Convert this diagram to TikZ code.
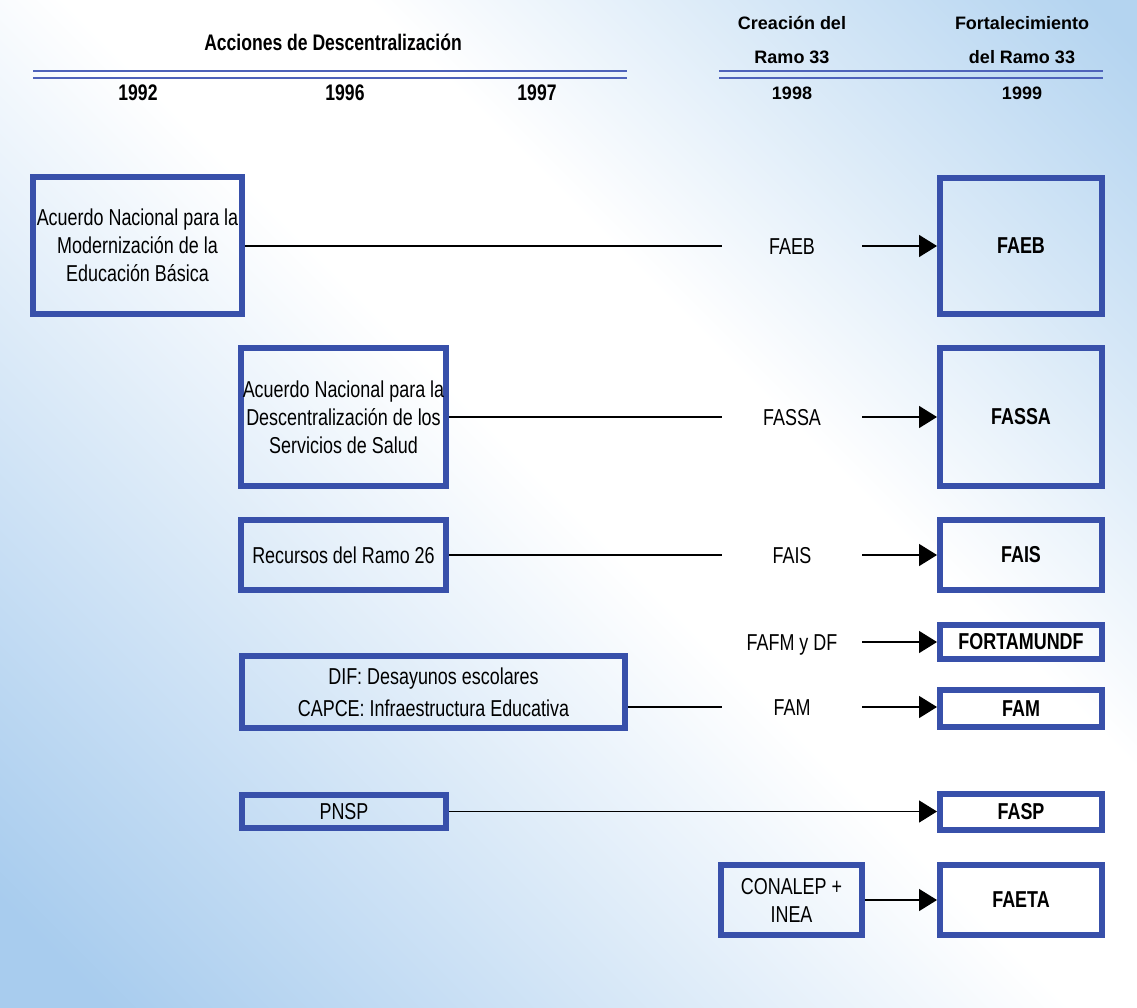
\documentclass[tikz,border=0pt]{standalone}
\usepackage{fontspec}
\setmainfont{Liberation Sans}[FakeStretch=0.78]
\newfontfamily\widefont{Liberation Sans}
\usetikzlibrary{arrows.meta}

\definecolor{boxblue}{RGB}{56,80,170}
\definecolor{rulerblue}{RGB}{78,98,186}
\definecolor{skyleft}{RGB}{168,204,238}
\definecolor{skyright}{RGB}{180,212,240}
\pgfdeclareverticalshading{skyshade}{100bp}{color(0bp)=(skyleft); color(18bp)=(skyleft); color(50bp)=(white); color(60bp)=(white); color(84bp)=(skyright); color(100bp)=(skyright)}

\tikzset{
  caja/.style={rectangle,draw=boxblue,line width=6pt,inner sep=0pt,align=center,font=\fontsize{23}{28}\selectfont},
  cajab/.style={caja,font=\fontsize{23}{28}\selectfont\bfseries},
  etiq/.style={rectangle,minimum width=140,inner sep=0pt,text height=16pt,text depth=0pt,font=\fontsize{23}{28}\selectfont},
  titulo/.style={font=\fontsize{22.5}{26}\selectfont\bfseries},
  titulob/.style={align=center,font=\widefont\fontsize{18}{34}\selectfont\bfseries},
  raya/.style={draw=rulerblue,line width=2.5pt},
  liga/.style={line width=1.5pt},
  flecha/.style={line width=1.5pt,-{Triangle[length=18pt,width=22pt]}}
}

\begin{document}
\begin{tikzpicture}[x=1pt,y=-1pt]
  \useasboundingbox (0,0) rectangle (1137,1007);
  \shade[shading=skyshade,shading angle=-45] (0,0) rectangle (1137,1007);

  % encabezado
  \node[titulo] (acc) at (333,42) {Acciones de Descentralización};
  \node[titulob] (cre) at (792,40) {Creación del\\Ramo 33};
  \node[titulob] (for) at (1022,40) {Fortalecimiento\\del Ramo 33};
  \draw[raya] (33,71) -- (627,71);
  \draw[raya] (33,78) -- (627,78);
  \draw[raya] (719,71) -- (1103,71);
  \draw[raya] (719,78) -- (1103,78);
  \node[titulo] (a92) at (138,93) {1992};
  \node[titulo] (a96) at (345,93) {1996};
  \node[titulo] (a97) at (537,93) {1997};
  \node[titulob] (a98) at (792,93) {1998};
  \node[titulob] (a99) at (1022,93) {1999};

  % acciones
  \node[caja,minimum width=209,minimum height=137] (anmeb) at (137.5,245.5) {Acuerdo Nacional para la\\Modernización de la\\Educación Básica};
  \node[caja,minimum width=205,minimum height=138] (andss) at (343.5,417) {Acuerdo Nacional para la\\Descentralización de los\\Servicios de Salud};
  \node[caja,minimum width=205,minimum height=70] (r26) at (343.5,555) {Recursos del Ramo 26};
  \node[caja,minimum width=383,minimum height=72] (dif) at (433.5,692) {DIF: Desayunos escolares\\[4pt]CAPCE: Infraestructura Educativa};
  \node[caja,minimum width=204,minimum height=33] (pnsp) at (344,811.5) {PNSP};
  \node[caja,minimum width=141,minimum height=70] (conalep) at (791.5,900) {CONALEP +\\INEA};

  % ramo 33, 1998
  \node[etiq] (faeb) at (792,246) {FAEB};
  \node[etiq] (fassa) at (792,417) {FASSA};
  \node[etiq] (fais) at (792,555) {FAIS};
  \node[etiq] (fafm) at (792,642) {FAFM y DF};
  \node[etiq] (fam) at (792,707) {FAM};

  % ramo 33, 1999
  \node[cajab,minimum width=162,minimum height=136] (faeb33) at (1021,246) {FAEB};
  \node[cajab,minimum width=162,minimum height=138] (fassa33) at (1021,417) {FASSA};
  \node[cajab,minimum width=162,minimum height=70] (fais33) at (1021,555) {FAIS};
  \node[cajab,minimum width=162,minimum height=34] (forta33) at (1021,642) {FORTAMUNDF};
  \node[cajab,minimum width=162,minimum height=37] (fam33) at (1021,708.5) {FAM};
  \node[cajab,minimum width=162,minimum height=36] (fasp33) at (1021,812) {FASP};
  \node[cajab,minimum width=162,minimum height=70] (faeta33) at (1021,900) {FAETA};

  \draw[liga] (faeb.west -| anmeb.east) -- (faeb.west);
  \draw[liga] (fassa.west -| andss.east) -- (fassa.west);
  \draw[liga] (fais.west -| r26.east) -- (fais.west);
  \draw[liga] (fam.west -| dif.east) -- (fam.west);

  \draw[flecha] (faeb.east) -- (faeb.east -| faeb33.west);
  \draw[flecha] (fassa.east) -- (fassa.east -| fassa33.west);
  \draw[flecha] (fais.east) -- (fais.east -| fais33.west);
  \draw[flecha] (fafm.east) -- (fafm.east -| forta33.west);
  \draw[flecha] (fam.east) -- (fam.east -| fam33.west);
  \draw[flecha] (pnsp.east) -- (pnsp.east -| fasp33.west);
  \draw[flecha] (conalep.east) -- (conalep.east -| faeta33.west);
\end{tikzpicture}
\end{document}
